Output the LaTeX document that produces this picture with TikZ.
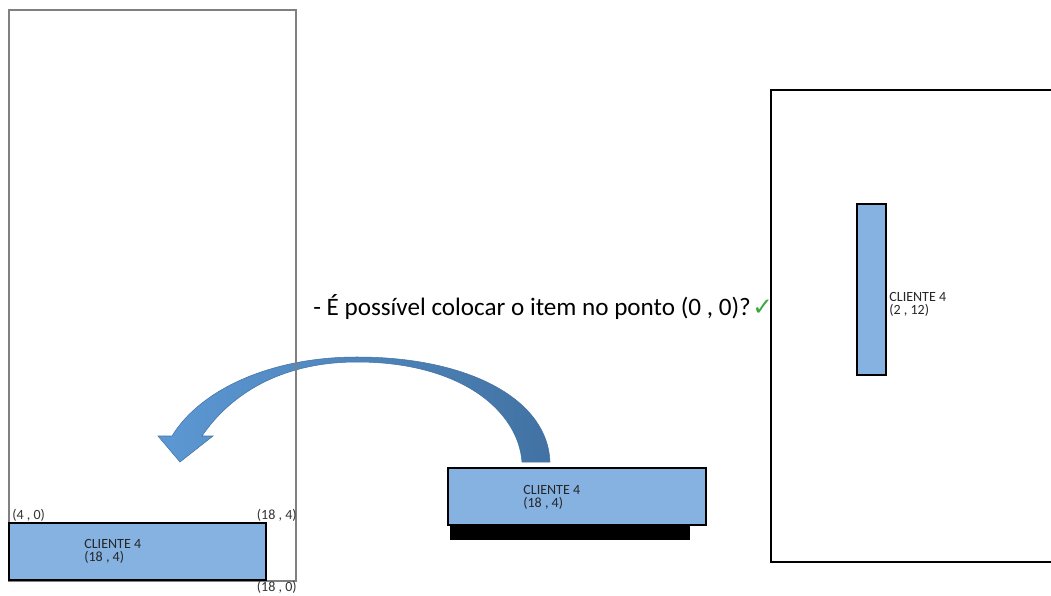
\documentclass[tikz,border=0pt]{standalone}
\usepackage{fontspec}
\setmainfont{Carlito}
\newfontfamily\symfont{DejaVu Sans}
\usetikzlibrary{positioning}

\definecolor{itemblue}{RGB}{134,178,226}
\definecolor{arrowlight}{RGB}{92,152,212}
\definecolor{arrowdark}{RGB}{66,114,163}
\definecolor{okgreen}{RGB}{58,168,64}

\begin{document}
\begin{tikzpicture}[x=0.02cm, y=-0.02cm,
    item/.style={draw=black, line width=1.1pt, fill=itemblue},
    tag/.style={font=\fontsize{8}{7.6}\selectfont, align=left, inner sep=0pt, text=black!85},
    corner/.style={font=\fontsize{8}{9}\selectfont, inner sep=0pt, text=black!80}]
    \useasboundingbox (0,0) rectangle (1051,595);

    % Curved move arrow (drawn first, the container line runs over it)
    \shade[left color=arrowlight, right color=arrowdark, draw=arrowdark, line width=0.3pt]
        (550,462) .. controls (548,400) and (470,357) .. (357,357)
                  .. controls (270,357) and (200,390) .. (172,436)
        -- (158,436) -- (180,462) -- (213,436) -- (202,436)
        .. controls (230,395) and (280,362) .. (357,362)
        .. controls (460,362) and (518,410) .. (522,462) -- cycle;

    % Left container with the placed item
    \draw[gray, line width=0.6pt] (9,10) rectangle (296,581);
    \draw[item] (9,523) rectangle (266,580);
    \node[tag, anchor=north west] (tagA) at (84,539) {CLIENTE 4\\(18 , 4)};
    \node[corner, anchor=west] (c40) at (12,515) {(4 , 0)};
    \node[corner, anchor=east] (c184) at (297,515) {(18 , 4)};
    \node[corner, anchor=east] (c180) at (297,587) {(18 , 0)};

    % Item being moved, with its shadow
    \fill[black] (450,525) rectangle (690,540);
    \draw[item] (448,468) rectangle (706,525);
    \node[tag, anchor=north west] (tagB) at (523,485) {CLIENTE 4\\(18 , 4)};

    % Question
    \node[anchor=base west, inner sep=0pt, font=\fontsize{14.3}{16}\selectfont] (ask) at (313,315)
        {- É possível colocar o item no ponto (0 , 0)?};
    \node[right=0.5pt of ask.base east, anchor=base west, inner sep=0pt, text=okgreen,
        font=\symfont\fontsize{14}{16}\selectfont] (ok) {✓};

    % Right container, rotated item
    \draw[line width=0.9pt] (1051,90) -- (771,90) -- (771,562) -- (1051,562);
    \draw[item] (857,204) rectangle (886,375);
    \node[tag, anchor=north west] (tagC) at (889,292) {CLIENTE 4\\(2 , 12)};
\end{tikzpicture}
\end{document}
